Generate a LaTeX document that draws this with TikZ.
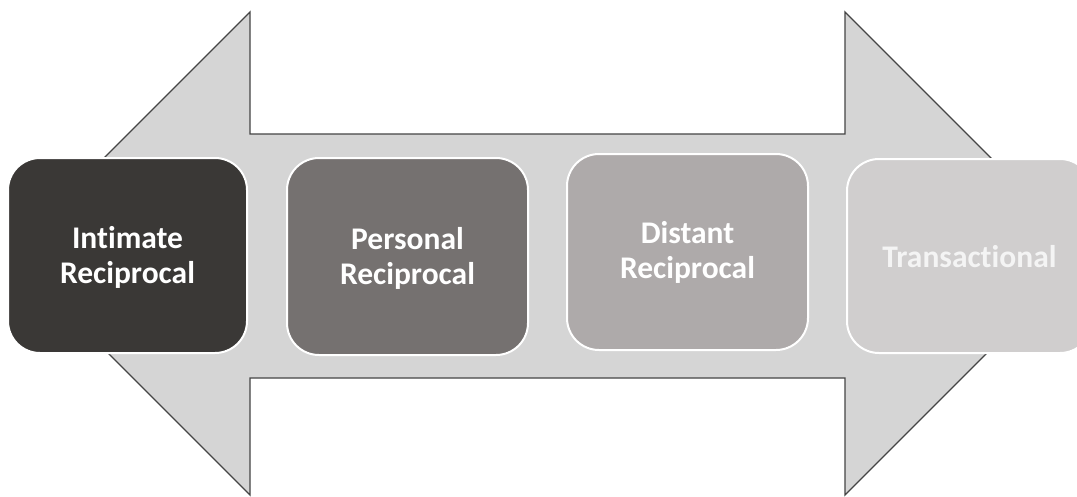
\documentclass[tikz,border=0pt]{standalone}
\usepackage{fontspec}
\setmainfont[Ligatures={NoCommon,NoRare}]{Carlito}
\definecolor{arrowfill}{HTML}{D5D5D5}
\definecolor{arrowline}{HTML}{454545}
\definecolor{boxa}{HTML}{3A3836}
\definecolor{boxb}{HTML}{757170}
\definecolor{boxc}{HTML}{AEAAAA}
\definecolor{boxd}{HTML}{D0CECE}
\definecolor{txtd}{HTML}{F4F4F4}
\begin{document}
\begin{tikzpicture}[x=1pt,y=-1pt,
  stagebox/.style={draw=white, line width=2pt, rounded corners=32pt},
  stagetext/.style={text=white, align=center, inner sep=0pt,
    font=\fontsize{31.5}{35}\selectfont\bfseries}]
\useasboundingbox (0,0) rectangle (1077,496);
\fill[white] (0,0) rectangle (1077,496);
% double-headed arrow
\draw[fill=arrowfill, draw=arrowline, line width=1.3pt, line join=miter]
  (8.5,253.5) -- (250,12) -- (250,134) -- (845,134) -- (845,12) -- (1086.5,253.5)
  -- (845,495) -- (845,378) -- (250,378) -- (250,495) -- cycle;
% stage boxes
\path[stagebox, fill=boxa] (8,158) rectangle (247,353);
\node[stagetext] (n1) at (127.5,257) {Intimate\\Reciprocal};
\path[stagebox, fill=boxb] (287,158) rectangle (528,355);
\node[stagetext] (n2) at (407.5,258) {Personal\\Reciprocal};
\path[stagebox, fill=boxc] (567,154) rectangle (808,350);
\node[stagetext] (n3) at (687.5,252) {Distant\\Reciprocal};
\path[stagebox, fill=boxd] (847,159) rectangle (1092,353);
\node[stagetext, text=txtd] (n4) at (969.5,257) {Transactional};
\end{tikzpicture}
\end{document}
